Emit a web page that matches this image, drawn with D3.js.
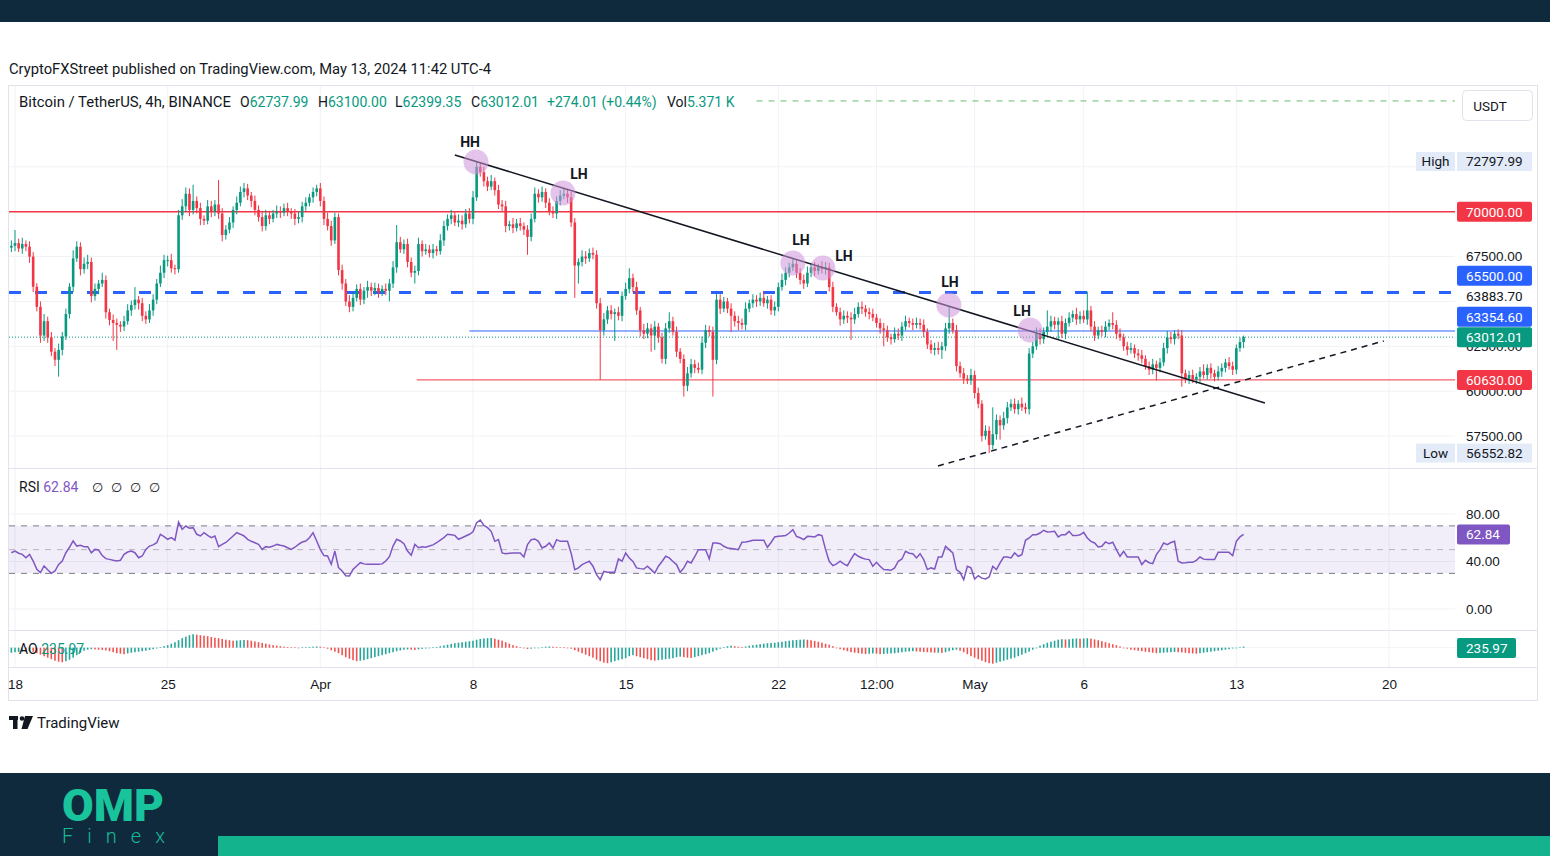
<!DOCTYPE html>
<html>
<head>
<meta charset="utf-8">
<script src="https://cdn.jsdelivr.net/npm/d3@7"></script>
<style>
  body { margin: 0; background: #fff; overflow: hidden; }
  svg { display: block; font-family: Roboto, "Noto Sans", sans-serif; }
</style>
</head>
<body>
<svg id="chart" width="1550" height="856"></svg>
<script>
// ---------------------------------------------------------------
// data (BTCUSDT 4h, values in thousand USD unless noted)
// ---------------------------------------------------------------
const START = Date.UTC(2024, 2, 17, 20);   // first 4h candle
const STEP = 4 * 3600 * 1000;
const FIRST_OPEN = 68.00;

const closes = [
68.10,68.25,67.95,68.20,68.05,67.50,65.82,64.70,63.10,63.90,
63.00,62.20,61.75,62.30,63.05,64.30,65.82,67.40,68.05,66.80,
67.10,67.20,65.30,65.70,66.00,66.20,64.40,63.97,63.80,63.70,
63.60,63.90,64.50,64.80,65.10,64.90,64.20,64.00,64.50,65.10,
66.00,66.60,67.30,67.30,66.85,66.80,69.80,70.30,71.00,70.10,
70.60,70.20,69.60,69.50,70.30,70.00,70.40,69.90,68.70,69.00,
69.40,70.10,70.50,71.10,71.30,70.90,70.60,70.10,69.70,69.20,
69.80,69.60,69.90,70.00,69.95,70.20,70.00,69.90,69.60,69.70,
70.30,70.50,70.80,71.10,71.30,70.60,69.60,69.20,68.40,69.70,
66.75,66.00,65.00,64.70,65.20,65.70,65.10,65.60,65.80,65.60,
65.75,65.50,65.70,65.60,66.00,66.90,68.30,67.90,68.20,67.20,
66.60,66.70,68.20,67.80,67.90,67.70,67.90,67.80,68.40,69.20,
69.60,69.80,69.40,69.50,69.30,69.90,69.60,70.80,72.50,72.20,
71.70,71.40,71.70,71.20,70.40,70.30,69.20,69.30,69.10,69.35,
69.20,69.00,68.60,69.60,71.00,70.80,71.10,70.50,70.00,69.90,
70.60,70.90,71.00,70.80,69.40,67.00,67.20,67.50,67.40,67.70,
67.60,64.90,63.40,64.00,64.50,64.30,64.40,64.20,65.30,65.70,
66.30,65.80,64.50,63.40,63.20,63.50,63.10,63.60,63.00,61.80,
63.50,63.90,63.30,62.20,61.80,60.30,61.00,61.50,61.30,61.20,
62.70,63.40,63.30,61.75,65.10,64.60,65.00,64.60,64.20,63.90,
63.80,63.70,64.60,64.90,65.10,65.00,65.20,64.90,65.10,64.50,
64.70,65.80,66.20,66.60,66.90,67.10,66.60,66.20,66.00,66.60,
66.90,66.70,66.90,66.80,66.90,65.80,64.70,64.40,64.00,64.20,
64.10,64.00,64.30,64.70,64.60,64.40,64.30,64.10,63.80,63.50,
63.40,63.00,62.90,63.20,63.10,63.60,63.90,63.80,63.70,63.80,
63.70,63.30,62.60,62.30,62.40,62.30,62.50,63.50,63.80,63.40,
61.40,61.00,60.70,60.60,60.90,59.90,59.30,57.50,57.80,57.00,
57.60,58.40,58.10,58.50,59.10,59.30,59.00,59.30,59.10,59.00,
62.10,62.50,63.20,62.90,63.30,63.60,63.90,63.70,63.90,63.20,
63.80,64.10,64.30,64.00,64.20,64.00,64.50,63.60,63.10,63.40,
63.30,63.60,63.80,63.70,63.20,63.00,62.50,62.30,62.40,62.10,
62.00,61.80,61.40,61.20,61.50,61.30,61.60,62.40,63.00,62.90,
63.20,63.10,61.00,60.70,60.90,60.65,60.80,61.10,60.90,61.30,
61.00,60.80,61.10,61.30,61.60,61.40,61.20,62.40,62.73799,63.01201
];

const wickUp = [
0.30,0.73,0.25,0.35,0.20,0.30,0.25,0.20,0.30,0.40,
0.25,0.30,0.20,0.35,0.25,0.30,0.20,0.45,0.30,0.25,
0.35,0.40,0.25,0.30,0.20,0.40,0.25,0.20,0.30,0.25,
0.20,0.30,0.35,0.25,0.70,0.20,0.30,0.25,0.35,0.30,
0.25,0.40,0.30,0.25,0.35,0.20,0.30,0.40,0.35,0.30,
0.90,0.25,0.30,0.20,0.35,0.30,0.25,1.37,0.30,0.25,
0.30,0.20,0.35,0.30,0.30,0.25,0.20,0.30,0.25,0.35,
0.30,0.25,0.20,0.35,0.30,0.25,0.30,0.20,0.25,0.30,
0.25,0.30,0.20,0.25,0.20,0.30,0.25,0.35,0.30,0.25,
0.20,0.30,0.25,0.35,0.30,0.25,0.30,0.20,0.35,0.25,
0.30,0.25,0.20,0.30,0.25,0.35,0.96,0.30,0.25,0.30,
0.25,0.30,0.35,0.20,0.30,0.25,0.30,0.20,0.35,0.30,
0.25,0.30,0.20,0.35,0.30,0.25,0.30,0.35,0.30,0.25,
0.30,0.25,0.35,0.20,0.30,0.25,0.30,0.20,0.35,0.25,
0.30,0.20,0.25,0.30,0.35,0.25,0.30,0.20,0.25,0.30,
0.25,0.30,0.30,0.25,0.30,0.25,0.20,0.35,0.30,0.25,
0.30,0.25,0.30,0.35,0.25,0.30,0.20,0.30,0.25,0.35,
0.55,0.25,0.30,0.20,0.35,0.30,0.25,0.30,0.20,0.25,
0.30,0.50,0.25,0.30,0.20,0.25,0.35,0.30,0.25,0.30,
0.35,0.30,0.25,0.30,0.35,0.30,0.25,0.20,0.30,0.25,
0.30,0.25,0.35,0.20,0.30,0.25,0.30,0.35,0.20,0.25,
0.30,0.25,0.35,0.30,0.25,0.30,0.20,0.25,0.30,0.35,
0.25,0.30,0.20,0.35,0.30,0.25,0.30,0.20,0.25,0.30,
0.25,0.30,0.35,0.25,0.30,0.20,0.25,0.30,0.20,0.25,
0.30,0.25,0.20,0.35,0.30,0.25,0.30,0.20,0.25,0.30,
0.25,0.30,0.20,0.25,0.30,0.35,0.25,0.30,0.90,0.25,
0.30,0.25,0.30,0.20,0.35,0.25,0.30,0.20,0.30,0.25,
1.50,0.30,0.25,0.35,0.30,0.25,0.30,0.20,0.35,0.25,
0.30,0.25,0.35,0.30,0.25,0.90,0.30,0.25,0.20,0.30,
0.25,0.30,0.20,0.35,0.25,0.30,1.05,0.25,0.30,0.20,
0.25,0.30,0.20,0.60,0.25,0.30,0.20,0.25,0.30,0.20,
0.25,0.30,0.20,0.25,0.30,0.20,0.25,0.30,0.35,0.30,
0.20,0.25,0.30,0.20,0.25,0.30,0.20,0.25,0.40,0.20,
0.25,0.20,0.30,0.25,0.20,0.30,0.25,0.20,0.25,0.08799
];

const wickDown = [
0.25,0.30,0.20,0.30,0.25,0.35,0.30,0.25,0.40,0.30,
0.30,0.25,0.35,0.94,0.30,0.20,0.25,0.30,0.20,0.35,
0.25,0.30,0.35,0.25,0.30,0.20,0.35,0.30,1.00,1.40,
0.30,0.25,0.20,0.30,0.25,0.35,0.30,0.25,0.20,0.30,
0.25,0.20,0.30,0.35,0.25,0.30,0.20,0.25,0.30,0.35,
0.25,0.30,0.35,0.25,0.20,0.30,0.25,0.30,0.35,0.25,
0.20,0.30,0.25,0.20,0.30,0.25,0.35,0.30,0.25,0.30,
0.25,0.30,0.20,0.25,0.30,0.20,0.25,0.30,0.35,0.25,
0.30,0.25,0.20,0.30,0.25,0.30,0.35,0.25,0.30,0.20,
0.30,0.35,0.25,0.30,0.25,0.20,0.30,0.25,0.40,0.30,
0.25,0.30,0.20,0.25,0.60,0.25,0.30,0.20,0.25,0.30,
0.25,0.60,0.25,0.30,0.20,0.25,0.30,0.25,0.20,0.30,
0.25,0.30,0.20,0.25,0.30,0.20,0.25,0.30,0.20,0.25,
0.30,0.25,0.20,0.30,0.25,0.30,0.35,0.25,0.30,0.20,
0.25,0.30,1.00,0.25,0.20,0.30,0.25,0.30,0.20,0.25,
0.30,0.25,0.20,0.30,0.25,1.80,1.00,0.25,0.30,0.20,
0.25,0.30,2.77,0.30,0.25,0.30,1.50,0.25,0.30,0.20,
0.25,0.30,0.25,0.35,0.30,0.25,0.90,0.80,0.30,0.25,
0.30,0.25,0.20,0.30,0.25,0.60,0.30,0.25,0.30,0.20,
0.25,0.30,0.25,2.05,0.25,0.30,0.20,0.25,0.90,0.30,
0.40,0.25,0.30,0.20,0.25,0.30,0.25,0.20,0.30,0.25,
0.30,0.25,0.20,0.30,0.25,0.20,0.30,0.25,0.30,0.20,
0.25,0.30,0.20,0.25,0.30,0.25,0.30,0.20,0.35,0.25,
0.30,1.15,0.25,0.20,0.30,0.25,0.30,0.20,0.25,0.30,
0.90,0.25,0.30,0.20,0.25,0.30,0.20,0.25,0.30,0.20,
0.25,0.30,0.25,0.20,0.30,0.25,0.50,0.25,0.30,0.20,
0.30,0.25,0.30,0.20,0.25,0.30,0.25,0.30,0.20,0.45,
0.25,0.30,0.80,0.25,0.30,0.20,0.25,0.30,0.20,0.25,
0.30,0.25,0.20,0.30,0.25,0.20,0.30,0.25,0.80,0.25,
0.30,0.20,0.25,0.30,0.25,0.20,0.30,0.25,0.30,0.20,
0.25,0.30,0.20,0.25,0.30,0.20,0.25,0.30,0.20,0.25,
0.30,0.25,0.20,0.30,0.25,0.70,0.25,0.20,0.30,0.25,
0.30,0.20,0.75,0.25,0.30,0.20,0.25,0.30,0.20,0.25,
0.30,0.25,0.20,0.30,0.25,0.20,0.30,0.25,0.20,0.33864
];

const rsi = [
47.4,48.8,47.0,46.0,43.2,46.0,40.4,33.4,30.6,36.2,
33.0,30.0,32.0,37.6,40.4,47.4,52.0,57.3,53.0,53.6,
52.5,52.5,47.4,50.2,49.7,45.0,42.4,41.8,41.0,40.4,
41.0,46.0,48.0,48.8,47.4,43.2,44.6,50.2,53.0,54.0,
55.8,62.9,61.0,58.7,60.1,58.0,73.2,67.1,69.9,68.0,
68.5,62.9,61.5,64.3,62.0,60.1,61.5,52.5,54.4,56.0,
58.7,61.5,64.3,63.0,61.5,58.7,57.0,55.8,54.4,50.2,
52.5,52.0,53.0,54.4,53.6,53.0,51.6,50.2,52.0,54.4,
56.4,57.3,60.0,64.3,57.3,50.0,45.0,44.6,37.6,48.8,
34.8,32.0,28.0,27.8,33.4,36.2,39.0,38.0,37.6,37.6,
37.6,37.6,38.0,40.4,44.1,53.0,58.7,57.3,55.0,48.8,
45.2,54.4,51.6,52.5,52.0,53.0,54.0,55.8,58.0,60.1,
62.9,62.5,62.0,58.7,60.0,61.5,62.9,65.0,72.7,74.9,
70.4,68.5,65.4,57.0,58.4,47.2,46.6,47.0,47.2,47.2,
47.2,43.8,54.2,58.4,59.0,57.0,51.4,52.8,55.6,51.4,
58.4,57.0,57.0,57.0,47.0,33.2,34.6,37.4,38.8,40.2,
36.0,29.0,24.7,31.7,31.0,30.9,30.9,42.1,40.2,47.2,
43.0,40.0,34.6,34.0,33.7,36.0,33.2,30.3,36.0,40.0,
44.4,43.0,40.0,37.4,30.9,34.6,40.2,38.8,44.0,50.0,
50.0,50.0,42.1,55.6,55.6,55.0,52.8,51.4,51.0,50.6,
50.0,56.2,56.5,57.0,57.9,58.0,58.0,57.9,52.0,56.0,
60.7,61.2,61.5,61.8,64.0,66.8,61.2,60.0,58.4,61.2,
61.0,60.7,62.6,61.8,50.0,40.2,36.5,38.0,40.2,38.0,
36.5,42.0,46.6,44.4,43.0,42.0,41.6,36.0,39.3,36.0,
33.2,33.0,32.6,34.6,40.2,42.1,48.6,47.0,46.6,43.0,
46.6,41.6,33.2,34.6,33.7,43.8,43.8,52.8,50.0,47.2,
33.2,30.9,24.7,36.0,34.6,25.3,28.1,26.0,25.3,27.0,
36.0,33.2,38.8,43.8,43.8,43.0,47.2,44.4,45.8,57.9,
59.8,62.6,62.6,64.0,66.3,64.9,65.0,65.4,60.7,62.6,
62.6,65.4,61.8,61.8,62.5,64.6,59.8,57.0,55.6,52.2,
52.8,56.5,55.0,56.2,50.0,44.4,48.6,43.8,43.8,43.8,
43.8,37.4,41.0,39.0,38.2,45.8,50.0,55.6,54.2,56.0,
57.0,40.2,38.8,39.0,39.3,39.3,41.0,43.8,42.0,41.6,
41.6,41.6,47.7,47.7,47.7,47.7,44.9,57.0,60.7,62.84
];

// Awesome Oscillator, USD
const ao = [
-1000,-900,-850,-800,-850,-700,-800,-1100,-1400,-1700,
-2000,-2300,-2600,-2800,-2900,-2700,-2400,-2000,-1500,-1000,
-600,-400,-300,-350,-400,-450,-550,-700,-900,-1100,
-1200,-1300,-1150,-1000,-900,-800,-700,-600,-450,-300,
-150,100,300,500,800,1100,1500,1900,2200,2500,
2700,2600,2500,2400,2300,2150,2000,1900,1750,1600,
1500,1400,1450,1500,1550,1500,1400,1250,1100,950,
800,650,500,400,300,200,150,100,50,0,
50,100,150,200,250,200,50,-200,-500,-800,
-1100,-1500,-1900,-2200,-2500,-2700,-2600,-2500,-2300,-2100,
-1900,-1700,-1500,-1300,-1100,-900,-700,-550,-400,-350,
-400,-450,-350,-250,-150,-50,50,150,300,450,
600,750,900,1000,1100,1200,1300,1400,1600,1750,
1850,1900,1950,1800,1600,1400,1100,800,500,300,
100,-100,-250,-200,-100,0,100,200,250,200,
150,100,50,0,-200,-500,-800,-1100,-1400,-1700,
-2000,-2400,-2700,-3000,-3100,-2900,-2700,-2500,-2300,-2100,
-1700,-1500,-1700,-1900,-2100,-2300,-2500,-2600,-2500,-2400,
-2300,-2200,-2100,-1900,-1800,-1900,-2000,-2050,-1900,-1700,
-1500,-1300,-1100,-800,-500,-200,100,300,400,300,
200,150,250,400,500,600,700,800,900,950,
1000,1100,1200,1300,1400,1500,1550,1600,1650,1600,
1500,1350,1200,1000,800,600,300,0,-300,-500,
-700,-900,-1000,-1100,-1200,-1250,-1200,-1150,-1200,-1300,
-1250,-1200,-1150,-1100,-1000,-900,-800,-750,-700,-750,
-800,-850,-900,-950,-1000,-1000,-1050,-900,-700,-500,
-400,-600,-900,-1300,-1700,-2000,-2300,-2600,-2900,-3100,
-3200,-3000,-2800,-2600,-2400,-2200,-2000,-1700,-1400,-1100,
-800,-400,0,400,700,1000,1200,1400,1600,1700,
1650,1700,1800,1850,1800,1850,1900,1800,1650,1500,
1300,1100,900,700,500,250,0,-200,-400,-500,
-600,-700,-800,-900,-1000,-1100,-1050,-1000,-950,-900,
-850,-900,-950,-1000,-1100,-1150,-1200,-1100,-1000,-900,
-800,-700,-600,-500,-400,-300,-150,0,120,235.97
];

// horizontal levels drawn on the chart (USD) and where they start
const levelPrices = [70000, 65500, 63354.60, 60630, 76170];
const levelStarts = [null, null, '2024-04-07T20:00Z', '2024-04-05T10:00Z', '2024-04-21T00:00Z'];

// trend lines [time, price]
const downTrend = [['2024-04-07T04:00Z', 73160], ['2024-05-14T07:30Z', 59345]];
const upTrend = [['2024-04-29T07:40Z', 55835], ['2024-05-19T18:15Z', 62798]];

// swing highs
const pivotTimes = ['2024-04-08T03:20Z', '2024-04-12T03:00Z', '2024-04-22T16:00Z', '2024-04-24T01:00Z', '2024-04-29T19:40Z', '2024-05-03T13:00Z'];
const pivotPrices = [72767, 71042, 67143, 66864, 64803, 63411];
const pivotLabels = ['HH', 'LH', 'LH', 'LH', 'LH', 'LH'];

// price scale badges
const badgePrices = [70000, 65500, 63883.70, 63354.60, 63012.01, 60630];
const badgeKinds = ['red', 'blue', 'plain', 'blue', 'green', 'red'];
const extremePrices = [72797.99, 56552.82];
const extremeNames = ['High', 'Low'];

const priceTicks = [57500, 60000, 62500, 67500];
const priceGrid = [57500, 60000, 62500, 65000, 67500, 70000, 72500];
const rsiTicks = [0, 40, 80];
const timeTicks = ['2024-03-18', '2024-03-25', '2024-04-01', '2024-04-08', '2024-04-15', '2024-04-22',
                   '2024-04-26T12:00Z', '2024-05-01', '2024-05-06', '2024-05-13', '2024-05-20'];
const timeLabels = ['18', '25', 'Apr', '8', '15', '22', '12:00', 'May', '6', '13', '20'];

const legendMain = { title: 'Bitcoin / TetherUS, 4h, BINANCE', o: '62737.99', h: '63100.00', l: '62399.35', c: '63012.01', chg: '+274.01 (+0.44%)', vol: '5.371 K' };

// ---------------------------------------------------------------
// colours / layout
// ---------------------------------------------------------------
const GREEN = '#089981', RED = '#f23645', BLUE = '#2962ff', PURPLE = '#7e57c2';
const TEXT = '#131722', GRID = '#f0f2f6', BORDER = '#e0e3eb';
const NAVY = '#0f2a3d', TEAL = '#13b38e';
const L = 9, R = 1455;

const svg = d3.select('#chart');
const defs = svg.append('defs');
defs.append('clipPath').attr('id', 'mainClip').append('rect').attr('x', L).attr('y', 86).attr('width', R - L).attr('height', 381);
defs.append('clipPath').attr('id', 'aoClip').append('rect').attr('x', L).attr('y', 631).attr('width', R - L).attr('height', 36);

const x = d3.scaleUtc().domain([Date.UTC(2024, 2, 18), Date.UTC(2024, 4, 20)]).range([15, 1389]);
const y = d3.scaleLinear().domain([55000, 75000]).range([480.95, 121.95]);
const yR = d3.scaleLinear().domain([0, 100]).range([609, 490.25]);
const yA = d3.scaleLinear().domain([-4000, 4000]).range([667.7, 627.7]);

const candles = closes.map((c, i) => {
  const o = i ? closes[i - 1] : FIRST_OPEN;
  return {
    t: new Date(START + i * STEP),
    o: o * 1000, c: c * 1000,
    h: (Math.max(o, c) + wickUp[i]) * 1000,
    l: (Math.min(o, c) - wickDown[i]) * 1000,
    rsi: rsi[i], ao: ao[i], aoUp: i === 0 ? true : ao[i] >= ao[i - 1]
  };
});

// ---------------------------------------------------------------
// frame bands
// ---------------------------------------------------------------
svg.append('rect').attr('width', 1550).attr('height', 22).attr('fill', NAVY);
svg.append('rect').attr('y', 773).attr('width', 1550).attr('height', 83).attr('fill', NAVY);
svg.append('rect').attr('x', 218).attr('y', 836).attr('width', 1332).attr('height', 20).attr('fill', TEAL);

svg.append('text').attr('x', 9).attr('y', 74).attr('font-size', 14.5).attr('fill', TEXT)
  .attr('textLength', 482).attr('lengthAdjust', 'spacingAndGlyphs')
  .text('CryptoFXStreet published on TradingView.com, May 13, 2024 11:42 UTC-4');

svg.append('rect').attr('x', 8.5).attr('y', 85.5).attr('width', 1529).attr('height', 615)
  .attr('fill', 'none').attr('stroke', BORDER);

// grids
const grid = svg.append('g');
grid.selectAll('line.v').data(timeTicks).join('line')
  .attr('x1', d => x(new Date(d))).attr('x2', d => x(new Date(d)))
  .attr('y1', 86).attr('y2', 667).attr('stroke', GRID);
grid.selectAll('line.h').data(priceGrid).join('line')
  .attr('x1', L).attr('x2', R).attr('y1', d => y(d)).attr('y2', d => y(d)).attr('stroke', GRID);
grid.selectAll('line.r').data(rsiTicks).join('line')
  .attr('x1', L).attr('x2', R).attr('y1', d => yR(d)).attr('y2', d => yR(d)).attr('stroke', GRID);
grid.append('line').attr('x1', L).attr('x2', R).attr('y1', yA(0)).attr('y2', yA(0)).attr('stroke', GRID);

// pane separators
[468, 630, 667].forEach(v => svg.append('line').attr('x1', 8).attr('x2', 1537).attr('y1', v + 0.5).attr('y2', v + 0.5).attr('stroke', BORDER));

// ---------------------------------------------------------------
// main pane
// ---------------------------------------------------------------
const main = svg.append('g').attr('clip-path', 'url(#mainClip)');

const levelStyles = [
  { stroke: RED, w: 1.5, dash: null },
  { stroke: BLUE, w: 3, dash: '12,14' },
  { stroke: BLUE, w: 1, dash: null },
  { stroke: RED, w: 1, dash: null },
  { stroke: '#66bb6a', w: 1, dash: '6,6' }
];
levelPrices.forEach((p, i) => {
  const s = levelStyles[i];
  main.append('line')
    .attr('x1', levelStarts[i] ? x(new Date(levelStarts[i])) : L).attr('x2', R)
    .attr('y1', y(p)).attr('y2', y(p))
    .attr('stroke', s.stroke).attr('stroke-width', s.w).attr('stroke-dasharray', s.dash);
});

// last price dotted line
main.append('line').attr('x1', L).attr('x2', R)
  .attr('y1', y(candles[candles.length - 1].c)).attr('y2', y(candles[candles.length - 1].c))
  .attr('stroke', GREEN).attr('stroke-dasharray', '1,2');

main.selectAll('line.wick').data(candles).join('line').attr('class', 'wick')
  .attr('x1', d => x(d.t)).attr('x2', d => x(d.t))
  .attr('y1', d => y(d.h)).attr('y2', d => y(d.l))
  .attr('stroke', d => d.c >= d.o ? GREEN : RED).attr('stroke-width', 1);
main.selectAll('rect.body').data(candles).join('rect').attr('class', 'body')
  .attr('x', d => x(d.t) - 1.3).attr('width', 2.6)
  .attr('y', d => y(Math.max(d.o, d.c)))
  .attr('height', d => Math.max(1, Math.abs(y(d.o) - y(d.c))))
  .attr('fill', d => d.c >= d.o ? GREEN : RED);

// trend lines
main.append('line')
  .attr('x1', x(new Date(downTrend[0][0]))).attr('y1', y(downTrend[0][1]))
  .attr('x2', x(new Date(downTrend[1][0]))).attr('y2', y(downTrend[1][1]))
  .attr('stroke', TEXT).attr('stroke-width', 1.5);
main.append('line')
  .attr('x1', x(new Date(upTrend[0][0]))).attr('y1', y(upTrend[0][1]))
  .attr('x2', x(new Date(upTrend[1][0]))).attr('y2', y(upTrend[1][1]))
  .attr('stroke', TEXT).attr('stroke-width', 1.5).attr('stroke-dasharray', '6,5');

// pivots
const LABEL_OFFSETS = [[-6, -20], [16, -19], [8, -23], [21, -12], [1, -23], [-8, -19]];
pivotTimes.forEach((t, i) => {
  const cx = x(new Date(t)), cy = y(pivotPrices[i]);
  main.append('circle').attr('cx', cx).attr('cy', cy).attr('r', 12.5)
    .attr('fill', '#ce93d8').attr('fill-opacity', 0.55);
  svg.append('text').attr('x', cx + LABEL_OFFSETS[i][0]).attr('y', cy + LABEL_OFFSETS[i][1])
    .attr('text-anchor', 'middle').attr('dominant-baseline', 'central')
    .attr('font-size', 14).attr('font-weight', 700).attr('fill', TEXT).text(pivotLabels[i]);
});

// legend
const lg = svg.append('g').attr('font-size', 14);
lg.append('text').attr('x', 19).attr('y', 107).attr('fill', TEXT)
  .attr('textLength', 212).attr('lengthAdjust', 'spacingAndGlyphs').text(legendMain.title);
[['O', legendMain.o, 240], ['H', legendMain.h, 318], ['L', legendMain.l, 395], ['C', legendMain.c, 471]].forEach(([k, v, px]) => {
  const t = lg.append('text').attr('x', px).attr('y', 107);
  t.append('tspan').attr('fill', TEXT).text(k);
  t.append('tspan').attr('fill', GREEN).text(v);
});
lg.append('text').attr('x', 547).attr('y', 107).attr('fill', GREEN).text(legendMain.chg);
const vt = lg.append('text').attr('x', 667).attr('y', 107);
vt.append('tspan').attr('fill', TEXT).text('Vol');
vt.append('tspan').attr('fill', GREEN).text(legendMain.vol);

// USDT button
svg.append('rect').attr('x', 1462.5).attr('y', 90.5).attr('width', 70).attr('height', 30).attr('rx', 4)
  .attr('fill', '#fff').attr('stroke', BORDER);
svg.append('text').attr('x', 1490).attr('y', 106).attr('text-anchor', 'middle').attr('dominant-baseline', 'central')
  .attr('font-size', 13.5).attr('fill', TEXT).text('USDT');

// price axis
const pAxis = svg.append('g').attr('transform', 'translate(1466,0)')
  .call(d3.axisRight(y).tickValues(priceTicks).tickFormat(d3.format('.2f')).tickSize(0).tickPadding(0));
pAxis.select('.domain').remove();
pAxis.selectAll('text').attr('font-size', 13.5).attr('fill', TEXT).attr('font-family', null);

// badges with simple collision stacking (bottom-up)
const badges = badgePrices.map((p, i) => ({ p, kind: badgeKinds[i], y: y(p) }))
  .sort((a, b) => b.y - a.y);
for (let i = 1; i < badges.length; i++) badges[i].y = Math.min(badges[i].y, badges[i - 1].y - 20.5);
const kindFill = { red: RED, blue: BLUE, green: GREEN };
badges.forEach(b => {
  if (b.kind !== 'plain') {
    svg.append('rect').attr('x', 1457).attr('y', b.y - 10).attr('width', 75).attr('height', 20).attr('rx', 2)
      .attr('fill', kindFill[b.kind]);
  }
  svg.append('text').attr('x', 1466).attr('y', b.y).attr('dominant-baseline', 'central')
    .attr('font-size', 13.5).attr('fill', b.kind === 'plain' ? TEXT : '#fff').text(d3.format('.2f')(b.p));
});

extremePrices.forEach((p, i) => {
  const cy = y(p);
  svg.append('rect').attr('x', 1416).attr('y', cy - 9.5).attr('width', 39).attr('height', 19).attr('fill', '#e3ebf8');
  svg.append('rect').attr('x', 1457).attr('y', cy - 9.5).attr('width', 75).attr('height', 19).attr('fill', '#e3ebf8');
  svg.append('text').attr('x', 1435.5).attr('y', cy).attr('text-anchor', 'middle').attr('dominant-baseline', 'central')
    .attr('font-size', 13.5).attr('fill', TEXT).text(extremeNames[i]);
  svg.append('text').attr('x', 1466).attr('y', cy).attr('dominant-baseline', 'central')
    .attr('font-size', 13.5).attr('fill', TEXT).text(d3.format('.2f')(p));
});

// ---------------------------------------------------------------
// RSI pane
// ---------------------------------------------------------------
svg.append('rect').attr('x', L).attr('width', R - L).attr('y', yR(70)).attr('height', yR(30) - yR(70))
  .attr('fill', PURPLE).attr('fill-opacity', 0.1);
[[70, 1], [50, 0.5], [30, 1]].forEach(([v, op]) => svg.append('line')
  .attr('x1', L).attr('x2', R).attr('y1', yR(v)).attr('y2', yR(v))
  .attr('stroke', '#787b86').attr('stroke-opacity', op).attr('stroke-dasharray', '6,6'));
svg.append('path').datum(candles)
  .attr('d', d3.line().x(d => x(d.t)).y(d => yR(d.rsi)))
  .attr('fill', 'none').attr('stroke', PURPLE).attr('stroke-width', 1.5);

const rAxis = svg.append('g').attr('transform', 'translate(1466,0)')
  .call(d3.axisRight(yR).tickValues(rsiTicks).tickFormat(d3.format('.2f')).tickSize(0).tickPadding(0));
rAxis.select('.domain').remove();
rAxis.selectAll('text').attr('font-size', 13.5).attr('fill', TEXT).attr('font-family', null);

const lastRsi = candles[candles.length - 1].rsi;
svg.append('rect').attr('x', 1457).attr('y', yR(lastRsi) - 10).attr('width', 53).attr('height', 20).attr('rx', 2).attr('fill', PURPLE);
svg.append('text').attr('x', 1466).attr('y', yR(lastRsi)).attr('dominant-baseline', 'central')
  .attr('font-size', 13.5).attr('fill', '#fff').text(d3.format('.2f')(lastRsi));

const rl = svg.append('text').attr('x', 19).attr('y', 492).attr('font-size', 14);
rl.append('tspan').attr('fill', TEXT).text('RSI ');
rl.append('tspan').attr('fill', PURPLE).text(d3.format('.2f')(lastRsi));
[92, 111, 130, 149].forEach(px => svg.append('text').attr('x', px).attr('y', 492)
  .attr('font-family', 'DejaVu Sans').attr('font-size', 13).attr('fill', TEXT).text('\u2205'));

// ---------------------------------------------------------------
// AO pane
// ---------------------------------------------------------------
svg.append('g').attr('clip-path', 'url(#aoClip)')
  .selectAll('rect').data(candles).join('rect')
  .attr('x', d => x(d.t) - 0.8).attr('width', 1.6)
  .attr('y', d => Math.min(yA(d.ao), yA(0)))
  .attr('height', d => Math.max(0.6, Math.abs(yA(d.ao) - yA(0))))
  .attr('fill', d => d.aoUp ? '#26a69a' : '#ef5350');

const lastAo = candles[candles.length - 1].ao;
const al = svg.append('text').attr('x', 19).attr('y', 654).attr('font-size', 14);
al.append('tspan').attr('fill', TEXT).text('AO ');
al.append('tspan').attr('fill', GREEN).text(d3.format('.2f')(lastAo));
svg.append('rect').attr('x', 1457).attr('y', 638).attr('width', 59).attr('height', 20).attr('rx', 2).attr('fill', GREEN);
svg.append('text').attr('x', 1466).attr('y', 648).attr('dominant-baseline', 'central')
  .attr('font-size', 13.5).attr('fill', '#fff').text(d3.format('.2f')(lastAo));

// ---------------------------------------------------------------
// time axis
// ---------------------------------------------------------------
const tAxis = svg.append('g').attr('transform', 'translate(0,684)')
  .call(d3.axisBottom(x).tickValues(timeTicks.map(d => new Date(d)))
    .tickFormat((d, i) => timeLabels[i]).tickSize(0).tickPadding(0));
tAxis.select('.domain').remove();
tAxis.selectAll('text').attr('dy', '0.35em').attr('font-size', 13.5).attr('fill', TEXT).attr('font-family', null);

// ---------------------------------------------------------------
// brand marks
// ---------------------------------------------------------------
const tv = svg.append('g').attr('fill', TEXT);
tv.append('rect').attr('x', 9).attr('y', 716).attr('width', 9).attr('height', 4);
tv.append('rect').attr('x', 13).attr('y', 716).attr('width', 4.5).attr('height', 13);
tv.append('circle').attr('cx', 22).attr('cy', 718.5).attr('r', 2.3);
tv.append('path').attr('d', 'M25,716 L33,716 L27.5,729 L21.5,729 Z');
svg.append('text').attr('x', 37).attr('y', 728).attr('font-size', 15).attr('fill', TEXT).text('TradingView');

svg.append('text').attr('x', 62).attr('y', 821).attr('font-size', 44).attr('font-weight', 900)
  .attr('textLength', 102).attr('lengthAdjust', 'spacingAndGlyphs').attr('fill', '#19c39c').text('OMP');
svg.append('text').attr('x', 62).attr('y', 843).attr('font-size', 20).attr('font-weight', 300)
  .attr('textLength', 103).attr('lengthAdjust', 'spacing').attr('fill', '#18b896').text('Finex');
</script>
</body>
</html>
